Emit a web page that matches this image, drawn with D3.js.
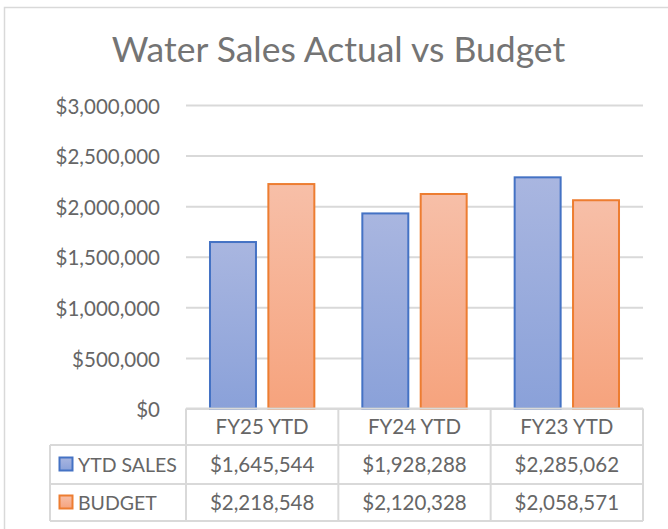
<!DOCTYPE html>
<html>
<head>
<meta charset="utf-8">
<script src="https://cdn.jsdelivr.net/npm/d3@7"></script>
<style>
    body{margin:0;background:#fff;}
    svg text{font-family:Lato,"Open Sans",sans-serif;fill:#666666;}
</style>
</head>
<body>
<div id="chart"></div>
<script>
let categories=["FY25 YTD","FY24 YTD","FY23 YTD"];
let seriesNames=["YTD SALES","BUDGET"];
let ytdSales=[1645544,1928288,2285062];
let budget=[2218548,2120328,2058571];
let yTicks=[0,500000,1000000,1500000,2000000,2500000,3000000];

(function(){
    let width=668,height=529;
    let colors=[{stroke:"#4472c4",top:"#a9b6e0",bottom:"#8aa1d9"},
                {stroke:"#ed7d31",top:"#f7bfa8",bottom:"#f6a37d"}];
    let values=[ytdSales,budget];
    let plot={left:186,right:643,top:105,bottom:408.5};
    let rows={header:445,r1:484,r2:521};
    let legendLeft=50;
    let fmt=d3.format("$,.0f");

    let svg=d3.select("#chart").append("svg")
        .attr("width",width).attr("height",height);

    //outer chart frame, runs off the picture on the right and bottom
    svg.append("rect")
        .attr("x",4.5).attr("y",7.5)
        .attr("width",width+20).attr("height",height+20)
        .attr("fill","none").attr("stroke","#d9d9d9").attr("stroke-width",1.5);

    svg.append("text")
        .attr("x",338.5).attr("y",62)
        .attr("text-anchor","middle")
        .style("font-size","35.5px")
        .style("fill","#747474")
        .text("Water Sales Actual vs Budget");

    let defs=svg.append("defs");
    colors.forEach(function(c,i){
        let g=defs.append("linearGradient").attr("id","grad"+i)
            .attr("x1",0).attr("y1",0).attr("x2",0).attr("y2",1);
        g.append("stop").attr("offset","0%").attr("stop-color",c.top);
        g.append("stop").attr("offset","100%").attr("stop-color",c.bottom);
    });

    let y=d3.scaleLinear().domain([0,3000000]).range([plot.bottom,plot.top]);
    let x0=d3.scaleBand().domain(categories).range([plot.left,plot.right]).padding(0);
    let x1=d3.scaleBand().domain(seriesNames).range([0,x0.bandwidth()])
        .paddingInner(0.178).paddingOuter(0.394);

    //grid lines
    svg.append("g")
        .attr("transform","translate("+plot.left+",0)")
        .call(d3.axisLeft(y).tickValues(yTicks).tickSize(-(plot.right-plot.left)).tickFormat(""))
        .call(function(g){
            g.select(".domain").remove();
            g.selectAll("line").attr("stroke","#d9d9d9").attr("stroke-width",2);
        });

    //y labels
    svg.append("g")
        .attr("transform","translate("+plot.left+",0)")
        .call(d3.axisLeft(y).tickValues(yTicks).tickSize(0).tickPadding(26).tickFormat(fmt))
        .call(function(g){
            g.select(".domain").remove();
            g.selectAll("text").style("font-size","20.5px").attr("fill",null).attr("dy","0.4em");
        });

    //bars
    let groups=svg.append("g").selectAll("g")
        .data(categories)
        .join("g")
        .attr("transform",function(d){return "translate("+x0(d)+",0)";});
    groups.selectAll("rect")
        .data(function(d,ci){
            return seriesNames.map(function(s,si){return {s:s,si:si,v:values[si][ci]};});
        })
        .join("rect")
        .attr("x",function(d){return x1(d.s)+1;})
        .attr("width",x1.bandwidth()-2)
        .attr("y",function(d){return y(d.v);})
        .attr("height",function(d){return y(0)-y(d.v);})
        .attr("fill",function(d){return "url(#grad"+d.si+")";})
        .attr("stroke",function(d){return colors[d.si].stroke;})
        .attr("stroke-width",2);

    //data table
    let lines=svg.append("g").attr("stroke","#d9d9d9").attr("stroke-width",2);
    lines.append("line").attr("x1",plot.left).attr("x2",plot.right).attr("y1",plot.bottom).attr("y2",plot.bottom);
    [rows.header,rows.r1,rows.r2].forEach(function(yy){
        lines.append("line").attr("x1",legendLeft).attr("x2",plot.right).attr("y1",yy).attr("y2",yy);
    });
    lines.append("line").attr("x1",legendLeft).attr("x2",legendLeft).attr("y1",rows.header).attr("y2",rows.r2);
    categories.forEach(function(c){
        lines.append("line").attr("x1",x0(c)).attr("x2",x0(c)).attr("y1",plot.bottom).attr("y2",rows.r2);
    });
    lines.append("line").attr("x1",plot.right).attr("x2",plot.right).attr("y1",plot.bottom).attr("y2",rows.r2);

    let cellFont="20.5px";
    svg.append("g").selectAll("text")
        .data(categories)
        .join("text")
        .attr("x",function(d){return x0(d)+x0.bandwidth()/2;})
        .attr("y",(plot.bottom+rows.header)/2)
        .attr("dy","0.36em")
        .attr("text-anchor","middle")
        .style("font-size",cellFont)
        .text(function(d){return d;});

    let rowMid=[(rows.header+rows.r1)/2,(rows.r1+rows.r2)/2];
    seriesNames.forEach(function(s,si){
        let ry=rowMid[si];
        svg.append("rect")
            .attr("x",59.5).attr("y",ry-7)
            .attr("width",13).attr("height",13)
            .attr("fill","url(#grad"+si+")")
            .attr("stroke",colors[si].stroke).attr("stroke-width",2);
        svg.append("text")
            .attr("x",78).attr("y",ry).attr("dy","0.36em")
            .style("font-size","19.5px")
            .text(s);
        svg.append("g").selectAll("text")
            .data(categories)
            .join("text")
            .attr("x",function(d){return x0(d)+x0.bandwidth()/2;})
            .attr("y",ry).attr("dy","0.36em")
            .attr("text-anchor","middle")
            .style("font-size",cellFont)
            .text(function(d,ci){return fmt(values[si][ci]);});
    });
})();
</script>
</body>
</html>
